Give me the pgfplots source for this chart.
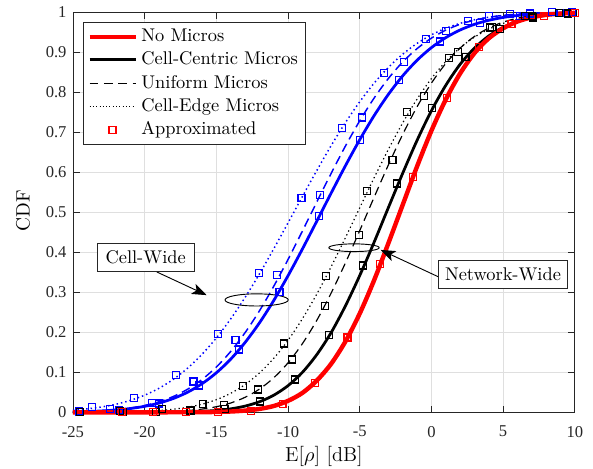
\documentclass[border=0pt]{standalone}
\usepackage{fontspec}
\usepackage{pgfplots}
\pgfplotsset{compat=1.18}
\usetikzlibrary{arrows.meta}
\newfontfamily\tickfont{Liberation Serif}

\definecolor{axgray}{RGB}{38,38,38}
\definecolor{gridgray}{RGB}{223,223,223}

\pgfplotsset{
  squarelegend/.style={legend image code/.code={\draw[##1] plot coordinates {(12.5pt,0pt)};}},
  approx/.style={only marks, mark=square, mark size=1.9pt, line width=0.65pt, forget plot},
}

\begin{document}
\begin{tikzpicture}
\useasboundingbox (-39.7pt,-30.8pt) rectangle (282.9pt,224.3pt);
\begin{axis}[
  scale only axis,
  width=273pt, height=217.6pt,
  xmin=-25, xmax=10, ymin=0, ymax=1,
  xtick={-25,-20,-15,-10,-5,0,5,10},
  ytick={0,0.1,0.2,0.3,0.4,0.5,0.6,0.7,0.8,0.9,1},
  tick align=inside, tick pos=both,
  major tick length=3.6pt,
  every tick/.style={axgray, line width=0.5pt},
  axis line style={axgray, line width=0.5pt},
  grid=major,
  major grid style={gridgray, line width=0.5pt},
  /pgf/number format/assume math mode=true,
  tick label style={font=\tickfont\fontsize{9}{10}\selectfont, text=axgray},
  xticklabel style={yshift=-4pt},
  xlabel={E[$\rho$] [dB]},
  ylabel={CDF},
  xlabel style={font=\fontsize{11}{13}\selectfont, at={(axis description cs:0.5,-0.1235)}, anchor=base},
  ylabel style={font=\fontsize{10.5}{12}\selectfont, at={(axis description cs:-0.0996,0.504)}, anchor=center},
  clip=false,
  legend cell align=left,
  legend image code/.code={\draw[#1] (0pt,0pt) -- (25pt,0pt);},
  legend style={at={(0.0205,0.9765)}, anchor=north west,
    draw=axgray, line width=0.5pt, fill=white,
    font=\fontsize{10}{11}\selectfont,
    inner xsep=2pt, inner ysep=1.8pt, row sep=0.1pt,
    nodes={inner sep=2pt}},
]

% Cell-wide curves (blue)
\addplot[blue, line width=0.8pt, dash pattern=on 0.8pt off 1.6pt, smooth, forget plot] coordinates {
(-25,0.0055) (-24,0.0087) (-23,0.0134) (-22,0.0202) (-21,0.0298) (-20,0.0428) (-19,0.0601) (-18,0.0825)
(-17,0.1106) (-16,0.145) (-15,0.186) (-14,0.2336) (-13,0.287) (-12,0.3457) (-11,0.4087) (-10,0.4737)
(-9,0.5394) (-8,0.6042) (-7,0.6664) (-6,0.7241) (-5,0.7764) (-4,0.8228) (-3,0.8624) (-2,0.8954)
(-1,0.9224) (0,0.9438) (1,0.9601) (2,0.9724) (3,0.9814) (4,0.9877) (5,0.9921) (6,0.995) (7,0.997)
(8,0.9982) (9,0.9989) (10,0.9994)};
\addplot[blue, line width=0.8pt, dash pattern=on 4.8pt off 2.8pt, smooth, forget plot] coordinates {
(-25,0.0012) (-24,0.0022) (-23,0.0039) (-22,0.0065) (-21,0.0107) (-20,0.0171) (-19,0.0264) (-18,0.0396)
(-17,0.0579) (-16,0.0821) (-15,0.1133) (-14,0.1522) (-13,0.199) (-12,0.2534) (-11,0.315) (-10,0.3821)
(-9,0.453) (-8,0.5254) (-7,0.5969) (-6,0.6655) (-5,0.7288) (-4,0.7855) (-3,0.8347) (-2,0.876)
(-1,0.9093) (0,0.9355) (1,0.9554) (2,0.9701) (3,0.9805) (4,0.9876) (5,0.9924) (6,0.9955) (7,0.9974)
(8,0.9985) (9,0.9992) (10,0.9996)};
\addplot[blue, line width=1.5pt, smooth, forget plot] coordinates {
(-25,0.0011) (-24,0.002) (-23,0.0035) (-22,0.0059) (-21,0.0095) (-20,0.015) (-19,0.0231) (-18,0.0346)
(-17,0.0504) (-16,0.0715) (-15,0.0988) (-14,0.1329) (-13,0.1745) (-12,0.2234) (-11,0.2794) (-10,0.3416)
(-9,0.4082) (-8,0.4776) (-7,0.5477) (-6,0.6163) (-5,0.6815) (-4,0.7415) (-3,0.795) (-2,0.8413)
(-1,0.8802) (0,0.9118) (1,0.9367) (2,0.9558) (3,0.970) (4,0.9801) (5,0.9872) (6,0.992) (7,0.9951)
(8,0.9971) (9,0.9983) (10,0.9991)};

% Network-wide curves (black)
\addplot[black, line width=0.65pt, dash pattern=on 0.7pt off 1.6pt, smooth, forget plot] coordinates {
(-25,0.0001) (-24,0.0002) (-23,0.0004) (-22,0.0007) (-21,0.0014) (-20,0.0025) (-19,0.0045) (-18,0.0077)
(-17,0.0127) (-16,0.0203) (-15,0.0316) (-14,0.0475) (-13,0.0693) (-12,0.0982) (-11,0.1348) (-10,0.180)
(-9,0.234) (-8,0.2953) (-7,0.3635) (-6,0.4364) (-5,0.5113) (-4,0.586) (-3,0.6575) (-2,0.7238)
(-1,0.7832) (0,0.8344) (1,0.877) (2,0.9113) (3,0.938) (4,0.9578) (5,0.9723) (6,0.9823) (7,0.989)
(8,0.9935) (9,0.9962) (10,0.9979)};
\addplot[black, line width=0.65pt, dash pattern=on 4.8pt off 2.8pt, smooth, forget plot] coordinates {
(-25,0) (-22,0.0001) (-20,0.0006) (-19,0.0012) (-18,0.0024) (-17,0.0045) (-16,0.0081) (-15,0.0140)
(-14,0.0233) (-13,0.0375) (-12,0.0579) (-11,0.0862) (-10,0.1238) (-9,0.1716) (-8,0.2297) (-7,0.2977)
(-6,0.3734) (-5,0.4543) (-4,0.5374) (-3,0.6187) (-2,0.695) (-1,0.764) (0,0.823) (1,0.872) (2,0.9105)
(3,0.9397) (4,0.9608) (5,0.9755) (6,0.9853) (7,0.9915) (8,0.9953) (9,0.9975) (10,0.9987)};
\addplot[black, line width=1.5pt, smooth, forget plot] coordinates {
(-25,0) (-20,0.0001) (-18,0.0006) (-17,0.0012) (-16,0.0025) (-15,0.0047) (-14,0.0087) (-13,0.0155)
(-12,0.0263) (-11,0.0427) (-10,0.0667) (-9,0.0999) (-8,0.144) (-7,0.199) (-6,0.266) (-5,0.342)
(-4,0.425) (-3,0.512) (-2,0.598) (-1,0.680) (0,0.754) (1,0.8175) (2,0.870) (3,0.9105) (4,0.941)
(5,0.9625) (6,0.9772) (7,0.9868) (8,0.9926) (9,0.9961) (10,0.998)};

% No micros (red)
\addplot[red, line width=2.4pt, smooth, forget plot] coordinates {
(-25,0) (-20,0) (-18,0.0001) (-16,0.0004) (-15,0.0009) (-14,0.002) (-13,0.0043) (-12,0.0084)
(-11,0.0158) (-10,0.0287) (-9,0.0485) (-8,0.0793) (-7,0.121) (-6,0.177) (-5,0.247) (-4,0.330)
(-3,0.423) (-2,0.519) (-1,0.615) (0,0.704) (1,0.782) (2,0.847) (3,0.898) (4,0.935) (5,0.960)
(6,0.977) (7,0.9875) (8,0.9936) (9,0.9968) (10,0.9986)};

% Approximations (square markers)
\addplot[approx, blue] coordinates {
(-23.65,0.014) (-20.75,0.035) (-17.82,0.093) (-14.87,0.195) (-12.03,0.349) (-9.06,0.535)
(-6.22,0.71) (-3.29,0.849) (-0.38,0.933) (2.57,0.979) (5.5,0.995) (8.4,1.0)};
\addplot[approx, blue] coordinates {
(-22.4,0.009) (-19.5,0.024) (-16.6,0.077) (-13.66,0.18) (-10.75,0.343) (-7.78,0.543)
(-4.87,0.737) (-1.92,0.876) (0.99,0.954) (4.0,0.99) (6.9,0.997) (9.8,1.0)};
\addplot[approx, blue] coordinates {
(-24.6,0.002) (-21.8,0.006) (-19.0,0.022) (-16.2,0.067) (-13.4,0.157) (-10.6,0.30) (-7.82,0.49)
(-4.99,0.68) (-2.27,0.83) (0.58,0.927) (3.38,0.974) (6.17,0.99) (9.0,0.998)};
\addplot[approx, black] coordinates {
(-24.5,0.001) (-21.7,0.003) (-18.8,0.008) (-15.96,0.02) (-13.12,0.066) (-10.26,0.172) (-7.37,0.34)
(-4.52,0.553) (-1.69,0.75) (1.24,0.886) (4.1,0.962) (7.0,0.99) (9.9,0.998)};
\addplot[approx, black] coordinates {
(-21.5,0.0) (-19.2,0.001) (-16.8,0.005) (-14.47,0.018) (-12.12,0.057) (-9.73,0.132) (-7.43,0.266)
(-5.06,0.443) (-2.71,0.631) (-0.5,0.79) (1.87,0.90) (4.2,0.964) (6.55,0.99) (8.9,0.998)};
\addplot[approx, black] coordinates {
(-21.6,0.0) (-19.2,0.0) (-16.8,0.003) (-14.4,0.008) (-11.96,0.027) (-9.52,0.082) (-7.15,0.194)
(-4.75,0.367) (-2.38,0.572) (0.06,0.76) (2.38,0.889) (4.78,0.958) (7.1,0.987) (9.5,0.997)};
\addplot[approx, red] coordinates {
(-21.6,0.0) (-19.4,0.0) (-17.1,0.0) (-14.9,0.001) (-12.6,0.004) (-10.38,0.02) (-8.12,0.074)
(-5.85,0.187) (-3.6,0.37) (-1.27,0.589) (1.06,0.785) (3.33,0.913) (5.59,0.97) (7.85,0.99) (10.0,0.998)};

% Legend entries
\addlegendimage{red, line width=2.4pt}
\addlegendentry{No Micros}
\addlegendimage{black, line width=1.5pt}
\addlegendentry{Cell-Centric Micros}
\addlegendimage{black, line width=0.65pt, dash pattern=on 4.8pt off 3pt}
\addlegendentry{Uniform Micros}
\addlegendimage{black, line width=0.5pt, dash pattern=on 0.5pt off 1.3pt}
\addlegendentry{Cell-Edge Micros}
\addlegendimage{red, mark=square, mark size=1.9pt, line width=0.65pt, only marks, squarelegend}
\addlegendentry{Approximated}

% Annotations
\draw[black, line width=0.5pt] (axis cs:-12.19,0.281) ellipse [x radius=17.2pt, y radius=3.3pt];
\draw[black, line width=0.5pt] (axis cs:-5.4,0.4115) ellipse [x radius=13.7pt, y radius=2.1pt];
\draw[black, line width=0.5pt, -{Stealth[length=8pt, width=6pt, inset=2pt]}]
  (axis cs:-19.16,0.351) -- (axis cs:-15.68,0.293);
\draw[black, line width=0.5pt, -{Stealth[length=8pt, width=6pt, inset=2pt]}]
  (axis cs:0.47,0.339) -- (axis cs:-3.54,0.406);
\node[draw=axgray, line width=0.5pt, fill=white, inner xsep=4.5pt, minimum height=15.4pt,
  font=\fontsize{10}{11}\selectfont] at (axis cs:-19.93,0.387) {Cell-Wide};
\node[draw=axgray, line width=0.5pt, fill=white, inner xsep=3.7pt, minimum height=15.4pt,
  font=\fontsize{10}{11}\selectfont] at (axis cs:4.99,0.345) {Network-Wide};
\end{axis}
\end{tikzpicture}
\end{document}
